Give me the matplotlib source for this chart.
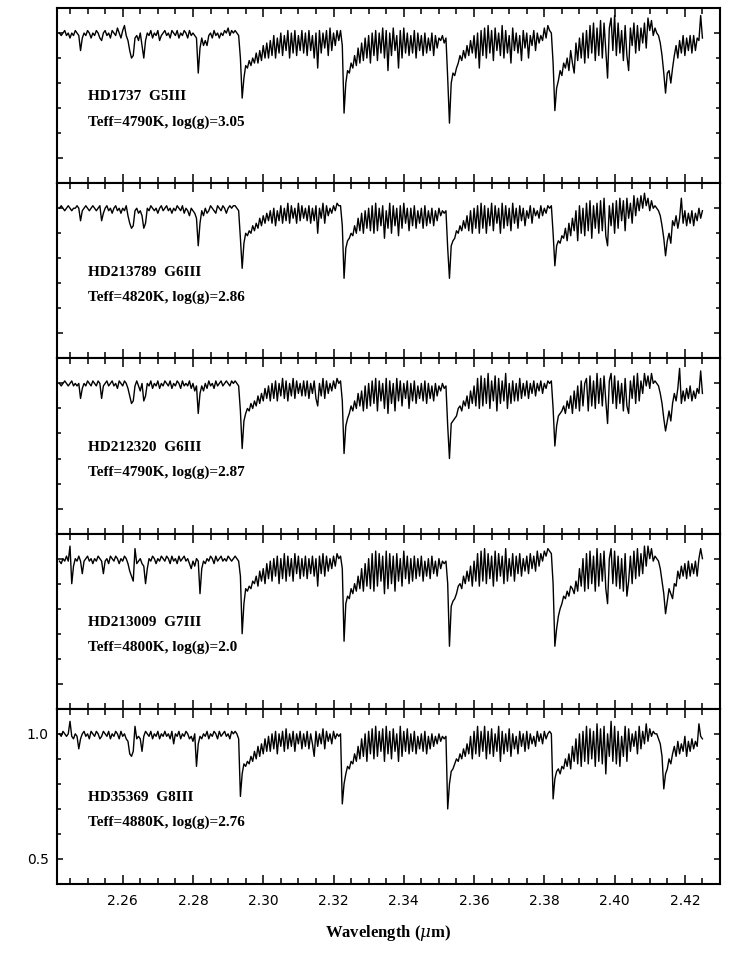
import numpy as np
import matplotlib
matplotlib.use('Agg')
import matplotlib.pyplot as plt
from matplotlib.ticker import MultipleLocator, FixedLocator

plt.rcParams['mathtext.fontset'] = 'dejavuserif'

# wavelength sampling of the hand-read spectra (micron): 2.2420 ... 2.4250
wave_start = 2.2420
wave_step = 0.0005

# normalized flux, in percent of continuum
# (each row spans 0.01 micron)
flux_hd1737 = [
    100, 99, 100, 101, 99, 100, 98, 100, 99, 101, 100, 99, 93, 98, 100, 99, 101, 100, 98, 100,
    99, 101, 100, 98, 97, 100, 101, 99, 100, 98, 101, 100, 99, 102, 100, 98, 101, 103, 99, 97,
    93, 90, 91, 98, 99, 97, 100, 95, 90, 97, 100, 99, 101, 98, 100, 99, 101, 97, 99, 100,
    101, 99, 100, 98, 101, 100, 99, 101, 98, 100, 99, 101, 100, 98, 101, 99, 100, 99, 98, 84,
    94, 98, 95, 97, 95, 99, 100, 98, 101, 99, 100, 98, 100, 99, 101, 100, 102, 99, 101, 100,
    101, 100, 99, 90, 74, 82, 87, 86, 89, 87, 90, 88, 92, 88, 93, 89, 95, 90, 96, 90,
    97, 91, 99, 90, 98, 92, 100, 91, 99, 93, 101, 90, 100, 92, 101, 91, 99, 93, 101, 92,
    100, 91, 101, 93, 99, 90, 100, 86, 101, 92, 100, 94, 101, 91, 102, 93, 100, 95, 101, 97,
    101, 95, 68, 80, 85, 84, 88, 86, 91, 87, 94, 88, 96, 89, 98, 90, 99, 88, 100, 91,
    101, 89, 100, 92, 102, 90, 101, 85, 100, 91, 102, 93, 99, 86, 101, 90, 102, 92, 100, 91,
    99, 92, 101, 90, 100, 93, 99, 91, 100, 92, 98, 93, 100, 91, 99, 94, 98, 97, 99, 96,
    98, 82, 64, 80, 84, 83, 86, 88, 91, 89, 93, 90, 95, 91, 97, 92, 99, 90, 100, 86,
    101, 91, 102, 90, 103, 92, 101, 89, 102, 93, 100, 91, 103, 90, 101, 92, 99, 88, 102, 93,
    100, 92, 99, 89, 101, 94, 100, 90, 99, 95, 101, 93, 100, 96, 99, 97, 102, 98, 103, 101,
    100, 88, 69, 78, 81, 85, 83, 88, 86, 90, 85, 93, 88, 84, 96, 89, 98, 90, 100, 88,
    101, 90, 103, 92, 104, 89, 102, 91, 105, 90, 104, 93, 82, 102, 106, 93, 107, 91, 104, 92,
    101, 89, 103, 91, 85, 102, 95, 104, 92, 103, 93, 102, 96, 104, 94, 106, 101, 105, 99, 102,
    100, 99, 96, 91, 84, 76, 84, 85, 80, 86, 91, 95, 90, 97, 92, 99, 91, 98, 93, 99,
    92, 99, 93, 98, 97, 107, 98]

flux_hd213789 = [
    100, 101, 100, 99, 100, 101, 100, 99, 100, 100, 101, 100, 95, 99, 100, 101, 100, 99, 100, 101,
    100, 99, 100, 101, 95, 98, 100, 101, 99, 100, 98, 100, 101, 99, 100, 98, 100, 99, 101, 97,
    94, 92, 93, 99, 100, 98, 99, 97, 92, 94, 100, 99, 101, 100, 99, 100, 98, 100, 101, 99,
    100, 101, 99, 100, 98, 100, 99, 101, 100, 99, 101, 98, 100, 99, 97, 100, 99, 98, 96, 85,
    94, 99, 97, 100, 98, 99, 101, 100, 99, 98, 101, 100, 99, 101, 100, 98, 100, 101, 100, 101,
    101, 100, 99, 88, 76, 86, 90, 89, 91, 90, 93, 91, 94, 92, 96, 93, 97, 94, 98, 95,
    99, 94, 100, 93, 99, 95, 101, 94, 100, 95, 102, 94, 101, 96, 100, 94, 102, 95, 101, 96,
    100, 95, 101, 94, 100, 95, 101, 90, 100, 96, 102, 94, 101, 97, 100, 98, 101, 99, 102, 101,
    101, 93, 72, 84, 87, 88, 90, 89, 93, 90, 96, 91, 98, 90, 99, 92, 100, 91, 101, 90,
    102, 91, 100, 93, 101, 88, 99, 92, 102, 90, 101, 93, 100, 89, 101, 92, 102, 94, 100, 91,
    100, 93, 101, 92, 99, 94, 100, 92, 101, 93, 99, 94, 100, 93, 99, 95, 100, 97, 99, 98,
    99, 84, 72, 85, 87, 88, 91, 90, 93, 91, 95, 92, 97, 91, 99, 90, 100, 92, 101, 90,
    102, 92, 101, 90, 100, 93, 102, 91, 101, 94, 100, 90, 102, 92, 101, 93, 100, 91, 102, 94,
    100, 92, 101, 95, 100, 93, 99, 96, 101, 94, 100, 97, 99, 96, 101, 97, 100, 98, 101, 100,
    101, 90, 77, 85, 87, 86, 89, 88, 92, 87, 94, 89, 96, 91, 99, 87, 101, 90, 100, 89,
    102, 91, 103, 88, 101, 92, 102, 90, 103, 91, 104, 89, 85, 101, 93, 102, 90, 103, 92, 104,
    95, 103, 91, 104, 96, 102, 94, 105, 97, 104, 99, 105, 100, 106, 101, 104, 99, 103, 100, 101,
    100, 99, 97, 93, 88, 81, 87, 90, 86, 95, 93, 97, 92, 96, 104, 94, 99, 93, 98, 94,
    99, 93, 98, 95, 100, 96, 99]

flux_hd212320 = [
    100, 99, 100, 101, 100, 99, 100, 101, 99, 100, 99, 100, 94, 98, 100, 99, 101, 100, 99, 101,
    100, 99, 101, 100, 94, 99, 100, 101, 99, 100, 101, 99, 100, 98, 101, 100, 99, 101, 100, 98,
    95, 92, 93, 99, 101, 99, 97, 100, 93, 95, 100, 99, 101, 98, 100, 99, 101, 98, 100, 99,
    101, 100, 99, 101, 98, 100, 99, 101, 100, 98, 101, 99, 100, 99, 101, 98, 100, 97, 99, 88,
    96, 99, 97, 100, 98, 101, 99, 100, 98, 101, 99, 100, 101, 99, 100, 101, 100, 99, 101, 100,
    101, 100, 99, 89, 74, 85, 88, 90, 89, 92, 90, 93, 91, 95, 92, 96, 93, 98, 94, 99,
    93, 100, 94, 101, 93, 100, 95, 102, 94, 101, 93, 100, 95, 102, 94, 101, 96, 100, 95, 101,
    95, 101, 94, 100, 96, 101, 94, 91, 100, 95, 102, 94, 101, 96, 100, 97, 101, 98, 102, 100,
    101, 93, 72, 83, 86, 88, 91, 89, 93, 90, 96, 91, 97, 89, 99, 90, 100, 91, 101, 92,
    102, 89, 101, 93, 100, 90, 102, 88, 101, 92, 100, 89, 102, 93, 101, 91, 100, 94, 101, 90,
    100, 93, 101, 92, 99, 94, 100, 93, 101, 92, 100, 94, 99, 93, 100, 95, 99, 97, 100, 98,
    99, 83, 70, 84, 85, 86, 87, 90, 91, 89, 93, 91, 95, 90, 97, 92, 99, 91, 102, 90,
    103, 91, 102, 92, 104, 90, 101, 93, 103, 89, 102, 92, 101, 93, 104, 90, 100, 92, 101, 93,
    100, 93, 102, 94, 100, 95, 101, 94, 100, 96, 101, 95, 100, 97, 101, 96, 100, 98, 101, 100,
    101, 90, 75, 83, 87, 88, 89, 91, 88, 93, 90, 95, 88, 97, 90, 99, 89, 101, 91, 100,
    102, 89, 103, 91, 101, 90, 104, 92, 102, 91, 103, 93, 84, 101, 104, 92, 103, 90, 101, 92,
    100, 89, 102, 91, 88, 101, 94, 103, 92, 104, 93, 101, 96, 104, 99, 103, 98, 104, 100, 101,
    100, 99, 96, 92, 86, 81, 85, 89, 85, 92, 96, 93, 98, 106, 92, 97, 93, 98, 94, 99,
    93, 97, 94, 98, 96, 105, 96]

flux_hd213009 = [
    99, 98, 100, 99, 101, 99, 105, 90, 97, 100, 99, 101, 99, 94, 99, 100, 101, 99, 100, 98,
    100, 99, 101, 100, 99, 94, 99, 100, 98, 101, 100, 99, 101, 100, 98, 100, 99, 101, 100, 98,
    95, 93, 91, 104, 98, 99, 100, 98, 97, 90, 96, 100, 99, 101, 100, 98, 100, 99, 101, 100,
    99, 101, 100, 98, 101, 99, 100, 98, 101, 99, 100, 101, 99, 100, 98, 96, 99, 97, 100, 99,
    86, 96, 99, 98, 100, 99, 101, 100, 98, 101, 99, 100, 101, 99, 100, 99, 101, 100, 99, 100,
    101, 100, 99, 93, 70, 82, 88, 87, 89, 88, 91, 90, 93, 89, 95, 91, 96, 90, 98, 92,
    99, 91, 100, 93, 101, 90, 100, 92, 102, 91, 101, 93, 100, 91, 102, 94, 101, 92, 100, 93,
    101, 92, 100, 94, 101, 93, 100, 89, 101, 94, 102, 93, 101, 95, 100, 96, 101, 97, 102, 100,
    101, 96, 67, 82, 85, 84, 88, 86, 90, 87, 93, 88, 96, 87, 98, 89, 100, 88, 102, 87,
    103, 89, 102, 91, 101, 86, 103, 88, 102, 90, 101, 87, 102, 91, 100, 89, 103, 92, 101, 90,
    100, 91, 101, 92, 100, 93, 101, 91, 99, 93, 100, 92, 101, 94, 99, 93, 100, 96, 99, 98,
    99, 90, 65, 81, 83, 84, 86, 89, 90, 88, 93, 90, 95, 91, 97, 89, 99, 91, 102, 89,
    103, 91, 104, 90, 102, 92, 101, 89, 103, 91, 102, 93, 101, 90, 104, 91, 100, 93, 102, 91,
    101, 94, 102, 93, 100, 95, 101, 94, 102, 96, 101, 95, 103, 97, 102, 99, 103, 101, 104, 103,
    102, 90, 65, 72, 77, 80, 82, 85, 84, 87, 85, 89, 88, 86, 91, 87, 96, 89, 100, 87,
    102, 88, 103, 90, 101, 87, 104, 89, 102, 91, 103, 88, 82, 100, 104, 90, 103, 89, 101, 88,
    100, 87, 102, 85, 91, 101, 90, 103, 92, 104, 93, 102, 94, 105, 97, 105, 100, 104, 99, 101,
    100, 99, 96, 91, 86, 78, 83, 88, 86, 84, 90, 89, 95, 92, 97, 93, 98, 92, 99, 93,
    98, 94, 99, 93, 100, 104, 100]

flux_hd35369 = [
    100, 99, 101, 100, 99, 100, 105, 99, 98, 100, 99, 94, 98, 100, 101, 99, 100, 98, 101, 100,
    99, 101, 100, 98, 99, 101, 100, 99, 101, 98, 100, 99, 101, 100, 98, 101, 99, 100, 98, 97,
    92, 91, 93, 103, 98, 99, 98, 93, 99, 101, 100, 99, 101, 98, 100, 99, 101, 98, 100, 99,
    101, 99, 100, 98, 101, 96, 100, 99, 101, 98, 100, 99, 101, 100, 98, 99, 97, 100, 87, 96,
    99, 98, 100, 99, 101, 98, 100, 99, 101, 100, 98, 101, 99, 100, 101, 99, 100, 98, 101, 100,
    101, 100, 98, 75, 84, 88, 87, 89, 88, 91, 89, 93, 90, 95, 91, 96, 92, 98, 93, 99,
    93, 100, 94, 101, 92, 100, 95, 101, 93, 102, 94, 100, 95, 101, 93, 100, 96, 101, 94, 100,
    95, 101, 94, 100, 96, 91, 101, 95, 100, 96, 102, 94, 101, 97, 100, 96, 101, 98, 100, 99,
    100, 72, 80, 84, 87, 86, 89, 88, 92, 89, 95, 90, 98, 91, 100, 89, 101, 92, 102, 90,
    103, 91, 101, 93, 102, 89, 103, 92, 101, 90, 102, 93, 100, 89, 103, 91, 101, 93, 102, 92,
    100, 93, 101, 92, 99, 94, 100, 93, 101, 92, 99, 94, 100, 95, 99, 96, 100, 97, 99, 98,
    99, 70, 80, 85, 86, 88, 90, 89, 92, 90, 94, 91, 96, 92, 99, 90, 101, 92, 103, 91,
    101, 93, 103, 90, 101, 92, 102, 91, 100, 93, 103, 89, 101, 92, 100, 93, 102, 91, 100, 94,
    99, 92, 101, 95, 100, 93, 101, 94, 100, 96, 99, 95, 101, 97, 100, 96, 101, 98, 100, 101,
    100, 74, 82, 85, 86, 84, 87, 86, 90, 87, 92, 86, 95, 89, 98, 88, 100, 87, 101, 89,
    103, 88, 102, 90, 101, 87, 104, 89, 102, 88, 103, 84, 100, 91, 105, 89, 103, 88, 101, 87,
    99, 91, 103, 89, 102, 93, 100, 95, 101, 92, 103, 94, 101, 96, 104, 97, 102, 99, 101, 100,
    100, 98, 96, 91, 78, 84, 86, 90, 88, 92, 95, 91, 97, 92, 96, 93, 99, 91, 97, 93,
    98, 94, 97, 95, 104, 99, 98]

star_names = ['HD1737  G5III', 'HD213789  G6III', 'HD212320  G6III',
              'HD213009  G7III', 'HD35369  G8III']
star_params = ['Teff=4790K, log(g)=3.05', 'Teff=4820K, log(g)=2.86',
               'Teff=4790K, log(g)=2.87', 'Teff=4800K, log(g)=2.0',
               'Teff=4880K, log(g)=2.76']
fluxes = [flux_hd1737, flux_hd213789, flux_hd212320, flux_hd213009, flux_hd35369]

x_ticks = [2.26, 2.28, 2.30, 2.32, 2.34, 2.36, 2.38, 2.40, 2.42]
x_ticklabels = ['2.26', '2.28', '2.30', '2.32', '2.34', '2.36', '2.38', '2.40', '2.42']
y_ticks = [0.5, 1.0]
y_ticklabels = ['0.5', '1.0']

for fl in fluxes:
    assert len(fl) == 367, len(fl)

W, H = 733, 972
fig = plt.figure(figsize=(W / 100, H / 100), dpi=100)

left_px, right_px = 57, 720
top_px, bottom_px = 8, 884
n = len(fluxes)
ph = (bottom_px - top_px) / n

text_font = dict(family='Liberation Serif', fontsize=11, fontweight='bold')

for k, (flux, name, par) in enumerate(zip(fluxes, star_names, star_params)):
    t = top_px + ph * k
    ax = fig.add_axes([left_px / W, 1 - (t + ph) / H, (right_px - left_px) / W, ph / H])
    f = np.asarray(flux, dtype=float) / 100.0
    wave = wave_start + wave_step * np.arange(len(f))
    ax.plot(wave, f, color='black', lw=1.0)
    ax.set_xlim(2.2413, 2.4300)
    ax.set_ylim(0.40, 1.10)

    ax.xaxis.set_major_locator(FixedLocator(x_ticks))
    ax.xaxis.set_minor_locator(MultipleLocator(0.005))
    ax.yaxis.set_major_locator(FixedLocator(y_ticks))
    ax.yaxis.set_minor_locator(MultipleLocator(0.1))
    ax.tick_params(axis='x', which='major', direction='in', length=6.5, width=1.1,
                   top=True, bottom=True, pad=7)
    ax.tick_params(axis='x', which='minor', direction='in', length=4, width=1.1,
                   top=True, bottom=True)
    ax.tick_params(axis='y', which='major', direction='in', length=4.5, width=1.1,
                   left=True, right=True, pad=6)
    ax.tick_params(axis='y', which='minor', direction='in', length=3, width=1.1,
                   left=True, right=True)
    for s in ax.spines.values():
        s.set_linewidth(1.5)

    if k == n - 1:
        ax.set_xticklabels(x_ticklabels, fontsize=10)
        ax.set_yticklabels(y_ticklabels, fontsize=10)
        ax.set_xlabel(r'Wavelength ($\mu$m)', family='Liberation Serif',
                      fontsize=12, fontweight='bold', labelpad=11)
    else:
        ax.set_xticklabels([])
        ax.set_yticklabels([])

    ax.text(2.2500, 0.745, name, va='center', ha='left', **text_font)
    ax.text(2.2500, 0.645, par, va='center', ha='left', **text_font)

fig.savefig('out.png', dpi=100)
